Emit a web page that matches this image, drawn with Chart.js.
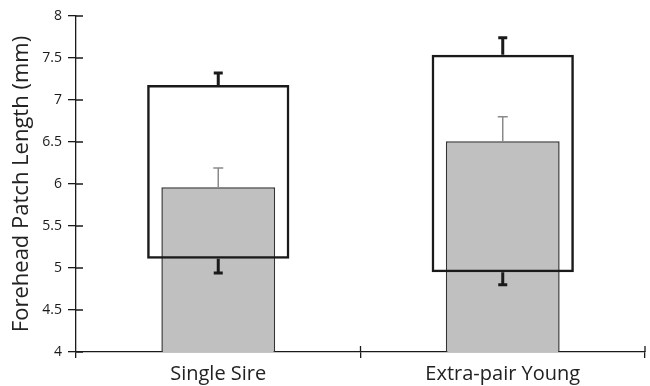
<!DOCTYPE html>
<html>
<head>
<meta charset="utf-8">
<script src="https://cdn.jsdelivr.net/npm/chart.js@4"></script>
<style>
  html, body { margin: 0; padding: 0; background: #fff; }
  #wrap { width: 650px; height: 386px; }
</style>
</head>
<body>
<div id="wrap"><canvas id="chart"></canvas></div>
<script>
// values
const categories = ['Single Sire', 'Extra-pair Young'];
const greyMeans = [5.96, 6.51];
const greyErrTop = [6.19, 6.80];
const boxLow = [5.11, 4.95];
const boxHigh = [7.18, 7.54];
const boxErrLow = [4.94, 4.80];
const boxErrHigh = [7.32, 7.74];
const yTicks = [4, 4.5, 5, 5.5, 6, 6.5, 7, 7.5, 8];

const FONT = "'Open Sans', 'Liberation Sans', sans-serif";
const INK = '#1a1a1a';

// error bars + inner halves of the axis ticks
const errorBars = {
    id: 'errorBars',
    afterDatasetsDraw(chart) {
        const ctx = chart.ctx;
        const x = chart.scales.x;
        const y = chart.scales.y;

        const bar = (cx, from, to, color, width, cap) => {
            const y0 = y.getPixelForValue(from);
            const y1 = y.getPixelForValue(to);
            ctx.save();
            ctx.strokeStyle = color;
            ctx.lineWidth = width;
            ctx.beginPath();
            ctx.moveTo(cx, y0);
            ctx.lineTo(cx, y1);
            ctx.moveTo(cx - cap / 2, y1);
            ctx.lineTo(cx + cap / 2, y1);
            ctx.stroke();
            ctx.restore();
        };

        categories.forEach((c, i) => {
            const cx = x.getPixelForValue(i);
            bar(cx, greyMeans[i], greyErrTop[i], '#8a8a8a', 1.5, 10);
            bar(cx, boxHigh[i], boxErrHigh[i], INK, 3, 9);
            bar(cx, boxLow[i], boxErrLow[i], INK, 3, 9);
        });

        // ticks cross the axis lines
        ctx.save();
        ctx.strokeStyle = INK;
        ctx.lineWidth = 1.3;
        ctx.beginPath();
        const left = chart.chartArea.left;
        yTicks.forEach(v => {
            const py = y.getPixelForValue(v);
            ctx.moveTo(left, py);
            ctx.lineTo(left + 7, py);
        });
        const bottom = chart.chartArea.bottom;
        const mid = (x.getPixelForValue(0) + x.getPixelForValue(1)) / 2;
        [mid, chart.chartArea.right].forEach(px => {
            ctx.moveTo(px, bottom);
            ctx.lineTo(px, bottom - 6);
        });
        ctx.stroke();
        ctx.restore();
    }
};

new Chart(document.getElementById('chart'), {
    type: 'bar',
    data: {
        labels: categories,
        datasets: [
            {
                label: 'box',
                data: boxLow.map((lo, i) => [lo, boxHigh[i]]),
                backgroundColor: 'rgba(0,0,0,0)',
                borderColor: INK,
                borderWidth: 2.5,
                borderSkipped: false,
                barPercentage: 0.5,
                categoryPercentage: 1
            },
            {
                label: 'grey',
                data: greyMeans.map(m => [4, m]),
                backgroundColor: '#c0c0c0',
                borderColor: '#333',
                borderWidth: 1.5,
                borderSkipped: 'start',
                barPercentage: 0.4,
                categoryPercentage: 1
            }
        ]
    },
    options: {
        responsive: true,
        maintainAspectRatio: false,
        animation: false,
        events: [],
        layout: { padding: { top: 16, right: 5, left: 0, bottom: 0 } },
        plugins: {
            legend: { display: false },
            tooltip: { enabled: false }
        },
        datasets: { bar: { grouped: false } },
        scales: {
            x: {
                offset: true,
                grid: {
                    offset: true,
                    drawOnChartArea: false,
                    tickLength: 6,
                    color: INK,
                    lineWidth: 1.3
                },
                border: { color: INK, width: 1.3 },
                ticks: {
                    color: '#222',
                    padding: 4,
                    font: { family: FONT, size: 20 }
                },
                afterFit: s => { s.height = 34; }
            },
            y: {
                min: 4,
                max: 8,
                afterBuildTicks: s => { s.ticks = yTicks.map(v => ({ value: v })); },
                grid: {
                    drawOnChartArea: false,
                    tickLength: 8,
                    color: INK,
                    lineWidth: 1.3
                },
                border: { color: INK, width: 1.3 },
                ticks: {
                    color: '#1a1a1a',
                    padding: 6,
                    font: { family: FONT, size: 14 },
                    callback: v => String(v)
                },
                title: {
                    display: true,
                    text: 'Forehead Patch Length (mm)',
                    color: '#222',
                    padding: { top: 9, bottom: 0 },
                    font: { family: FONT, size: 22 }
                },
                afterFit: s => { s.width = 76; }
            }
        }
    },
    plugins: [errorBars]
});
</script>
</body>
</html>
